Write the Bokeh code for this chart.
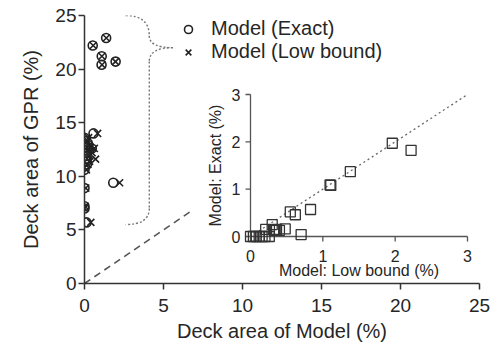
import math
from bokeh.plotting import figure
from bokeh.models import Range1d, FixedTicker, Legend, LegendItem, LinearAxis
from bokeh.embed import file_html
from bokeh.resources import INLINE
from bokeh.core.properties import value

# ---------------- data ----------------
# each observation: model low-bound area, model exact area, GPR area (all %)
low   = [1.96, 2.22, 1.38, 1.10, 1.11, 0.55, 0.83, 0.62, 0.70, 0.48, 0.40,
         0.33, 0.30, 0.21, 0.26, 0.00, 0.04, 0.08, 0.12, 0.16, 0.20, 0.32, 0.36]
exact = [1.97, 1.82, 1.37, 1.09, 1.08, 0.52, 0.57, 0.46, 0.04, 0.16, 0.13,
         0.13, 0.25, 0.15, 0.00, 0.00, 0.00, 0.00, 0.00, 0.00, 0.00, 0.14, 0.15]
gpr   = [20.7, 9.4, 22.9, 21.2, 20.4, 22.2, 14.0, 12.6, 11.6, 12.2, 5.7,
         11.9, 12.9, 11.1, 13.6, 7.0, 7.2, 8.9, 10.6, 12.4, 13.3, 11.4, 12.7]

main_ticks = [0, 5, 10, 15, 20, 25]
inset_ticks = [0, 1, 2, 3]
inset_tick_labels = ["0", "1", "2", "3"]
legend_labels = ["Model (Exact)", "Model (Low bound)"]
xlabel = "Deck area of Model (%)"
ylabel = "Deck area of GPR (%)"
inset_xlabel = "Model: Low bound (%)"
inset_ylabel = "Model: Exact (%)"

# ---------------- layout ----------------
FONT = "Liberation Sans"
TXT = "#262626"
AX = "#333333"
X0, X1 = 0, 25
Y0, Y1 = 0, 25
BL, BR, BT, BB = 84, 20, 15, 67
frame_w, frame_h = 395, 268
FIG_W = BL + frame_w + BR
FIG_H = BT + frame_h + BB

p = figure(width=FIG_W, height=FIG_H, output_backend="svg", toolbar_location=None,
           x_range=Range1d(X0, X1), y_range=Range1d(Y0, Y1),
           min_border_left=BL, min_border_right=BR, min_border_top=BT,
           min_border_bottom=BB, x_axis_type=None, y_axis_type=None)
p.outline_line_color = None
p.grid.visible = False
p.background_fill_color = "white"
p.border_fill_color = "white"

xa = LinearAxis(ticker=FixedTicker(ticks=main_ticks))
ya = LinearAxis(ticker=FixedTicker(ticks=main_ticks))
for a, lab in ((xa, xlabel), (ya, ylabel)):
    a.axis_label = lab
    a.axis_label_text_font = FONT
    a.axis_label_text_font_size = "20px"
    a.axis_label_text_font_style = "normal"
    a.axis_label_text_color = TXT
    a.major_label_text_font = FONT
    a.major_label_text_font_size = "19px"
    a.major_label_text_color = TXT
    a.axis_line_color = AX
    a.axis_line_width = 1.5
    a.major_tick_line_color = AX
    a.major_tick_line_width = 1.5
    a.major_tick_out = 6
    a.major_tick_in = 0
    a.minor_tick_line_color = None
xa.major_label_standoff = 9
xa.axis_label_standoff = 5
ya.major_label_standoff = 2
ya.axis_label_standoff = 10
p.add_layout(xa, "below")
p.add_layout(ya, "left")

# ---------------- inset ranges (anchored in page pixels) ----------------
frame_left = BL
frame_bottom = BT + frame_h
inset_org = (250.0, 236.0)          # page px of inset (0,0)
inset_sx = (467.0 - 250.0) / 3.0     # px per unit
inset_sy = (236.0 - 94.0) / 3.0
ix0 = -(inset_org[0] - frame_left) / inset_sx
iy0 = -(frame_bottom - inset_org[1]) / inset_sy
p.extra_x_ranges = {"ix": Range1d(ix0, ix0 + frame_w / inset_sx)}
p.extra_y_ranges = {"iy": Range1d(iy0, iy0 + frame_h / inset_sy)}

# ---------------- main plot glyphs ----------------
# reference diagonal (continuation of the inset's 1:1 line)
p.line([0, 6.9], [0, 6.9], line_dash="7 5", line_color="#555555", line_width=1.6)

# brace
BX_L, BX_M, BX_T = 2.6, 4.1, 5.6
BY_T, BY_TIP, BY_B = 25.0, 22.0, 5.5
bstyle = dict(line_color="#777777", line_width=1.4, line_dash="2 2")
p.quadratic(x0=[BX_L], y0=[BY_T], x1=[BX_M], y1=[BY_TIP + 1.1], cx=[BX_M], cy=[BY_T], **bstyle)
p.quadratic(x0=[BX_M], y0=[BY_TIP + 1.1], x1=[BX_T], y1=[BY_TIP], cx=[BX_M], cy=[BY_TIP], **bstyle)
p.quadratic(x0=[BX_T], y0=[BY_TIP], x1=[BX_M], y1=[BY_TIP - 1.3], cx=[BX_M], cy=[BY_TIP], **bstyle)
p.segment(x0=[BX_M], y0=[BY_TIP - 1.3], x1=[BX_M], y1=[BY_B + 1.5], **bstyle)
p.quadratic(x0=[BX_M], y0=[BY_B + 1.5], x1=[BX_L], y1=[BY_B], cx=[BX_M], cy=[BY_B], **bstyle)

r_exact = p.scatter(exact, gpr, marker="circle", size=9, fill_color=None,
                    line_color="#222222", line_width=1.6)
r_low = p.scatter(low, gpr, marker="x", size=10, line_color="#222222", line_width=1.6)

legend = Legend(items=[LegendItem(label=legend_labels[0], renderers=[r_exact]),
                       LegendItem(label=legend_labels[1], renderers=[r_low])],
                location=(178 - frame_left, frame_bottom - 63),
                border_line_color=None, background_fill_alpha=0,
                padding=0, margin=0, spacing=0,
                glyph_width=20, glyph_height=20, label_height=20,
                label_standoff=13,
                label_text_font=FONT, label_text_font_size="20px",
                label_text_color=TXT)
p.add_layout(legend)

# ---------------- inset ----------------
ir = dict(x_range_name="ix", y_range_name="iy")
tick_len_y = 5 / inset_sy
tick_len_x = 5 / inset_sx
p.line([0, 3], [0, 3], line_dash="2 3", line_color="#666666", line_width=1.3, **ir)
p.segment(x0=[inset_ticks[0], inset_ticks[0]], y0=[inset_ticks[0], inset_ticks[0]],
          x1=[inset_ticks[-1], inset_ticks[0]], y1=[inset_ticks[0], inset_ticks[-1]],
          line_color="#555555", line_width=1.3, **ir)
p.segment(x0=inset_ticks, y0=[0] * 4, x1=inset_ticks, y1=[-tick_len_y] * 4,
          line_color="#555555", line_width=1.3, **ir)
p.segment(x0=[0] * 4, y0=inset_ticks, x1=[-tick_len_x] * 4, y1=inset_ticks,
          line_color="#555555", line_width=1.3, **ir)
p.text(x=inset_ticks, y=[0] * 4, text=inset_tick_labels, y_offset=19,
       text_align="center", text_baseline="middle", text_font=value(FONT),
       text_font_size="16px", text_color=TXT, **ir)
p.text(x=[0] * 4, y=inset_ticks, text=inset_tick_labels, x_offset=-10,
       text_align="right", text_baseline="middle", text_font=value(FONT),
       text_font_size="16px", text_color=TXT, **ir)
p.text(x=[1.5], y=[0], text=[inset_xlabel], y_offset=34, text_align="center",
       text_baseline="middle", text_font=value(FONT), text_font_size="16px",
       text_color=TXT, **ir)
p.text(x=[0], y=[1.5], text=[inset_ylabel], x_offset=-35, angle=math.pi / 2,
       text_align="center", text_baseline="middle", text_font=value(FONT),
       text_font_size="16px", text_color=TXT, **ir)
p.scatter(low, exact, marker="square", size=10, fill_color=None,
          line_color="#333333", line_width=1.3, **ir)

open("out.html", "w").write(file_html(p, INLINE))
